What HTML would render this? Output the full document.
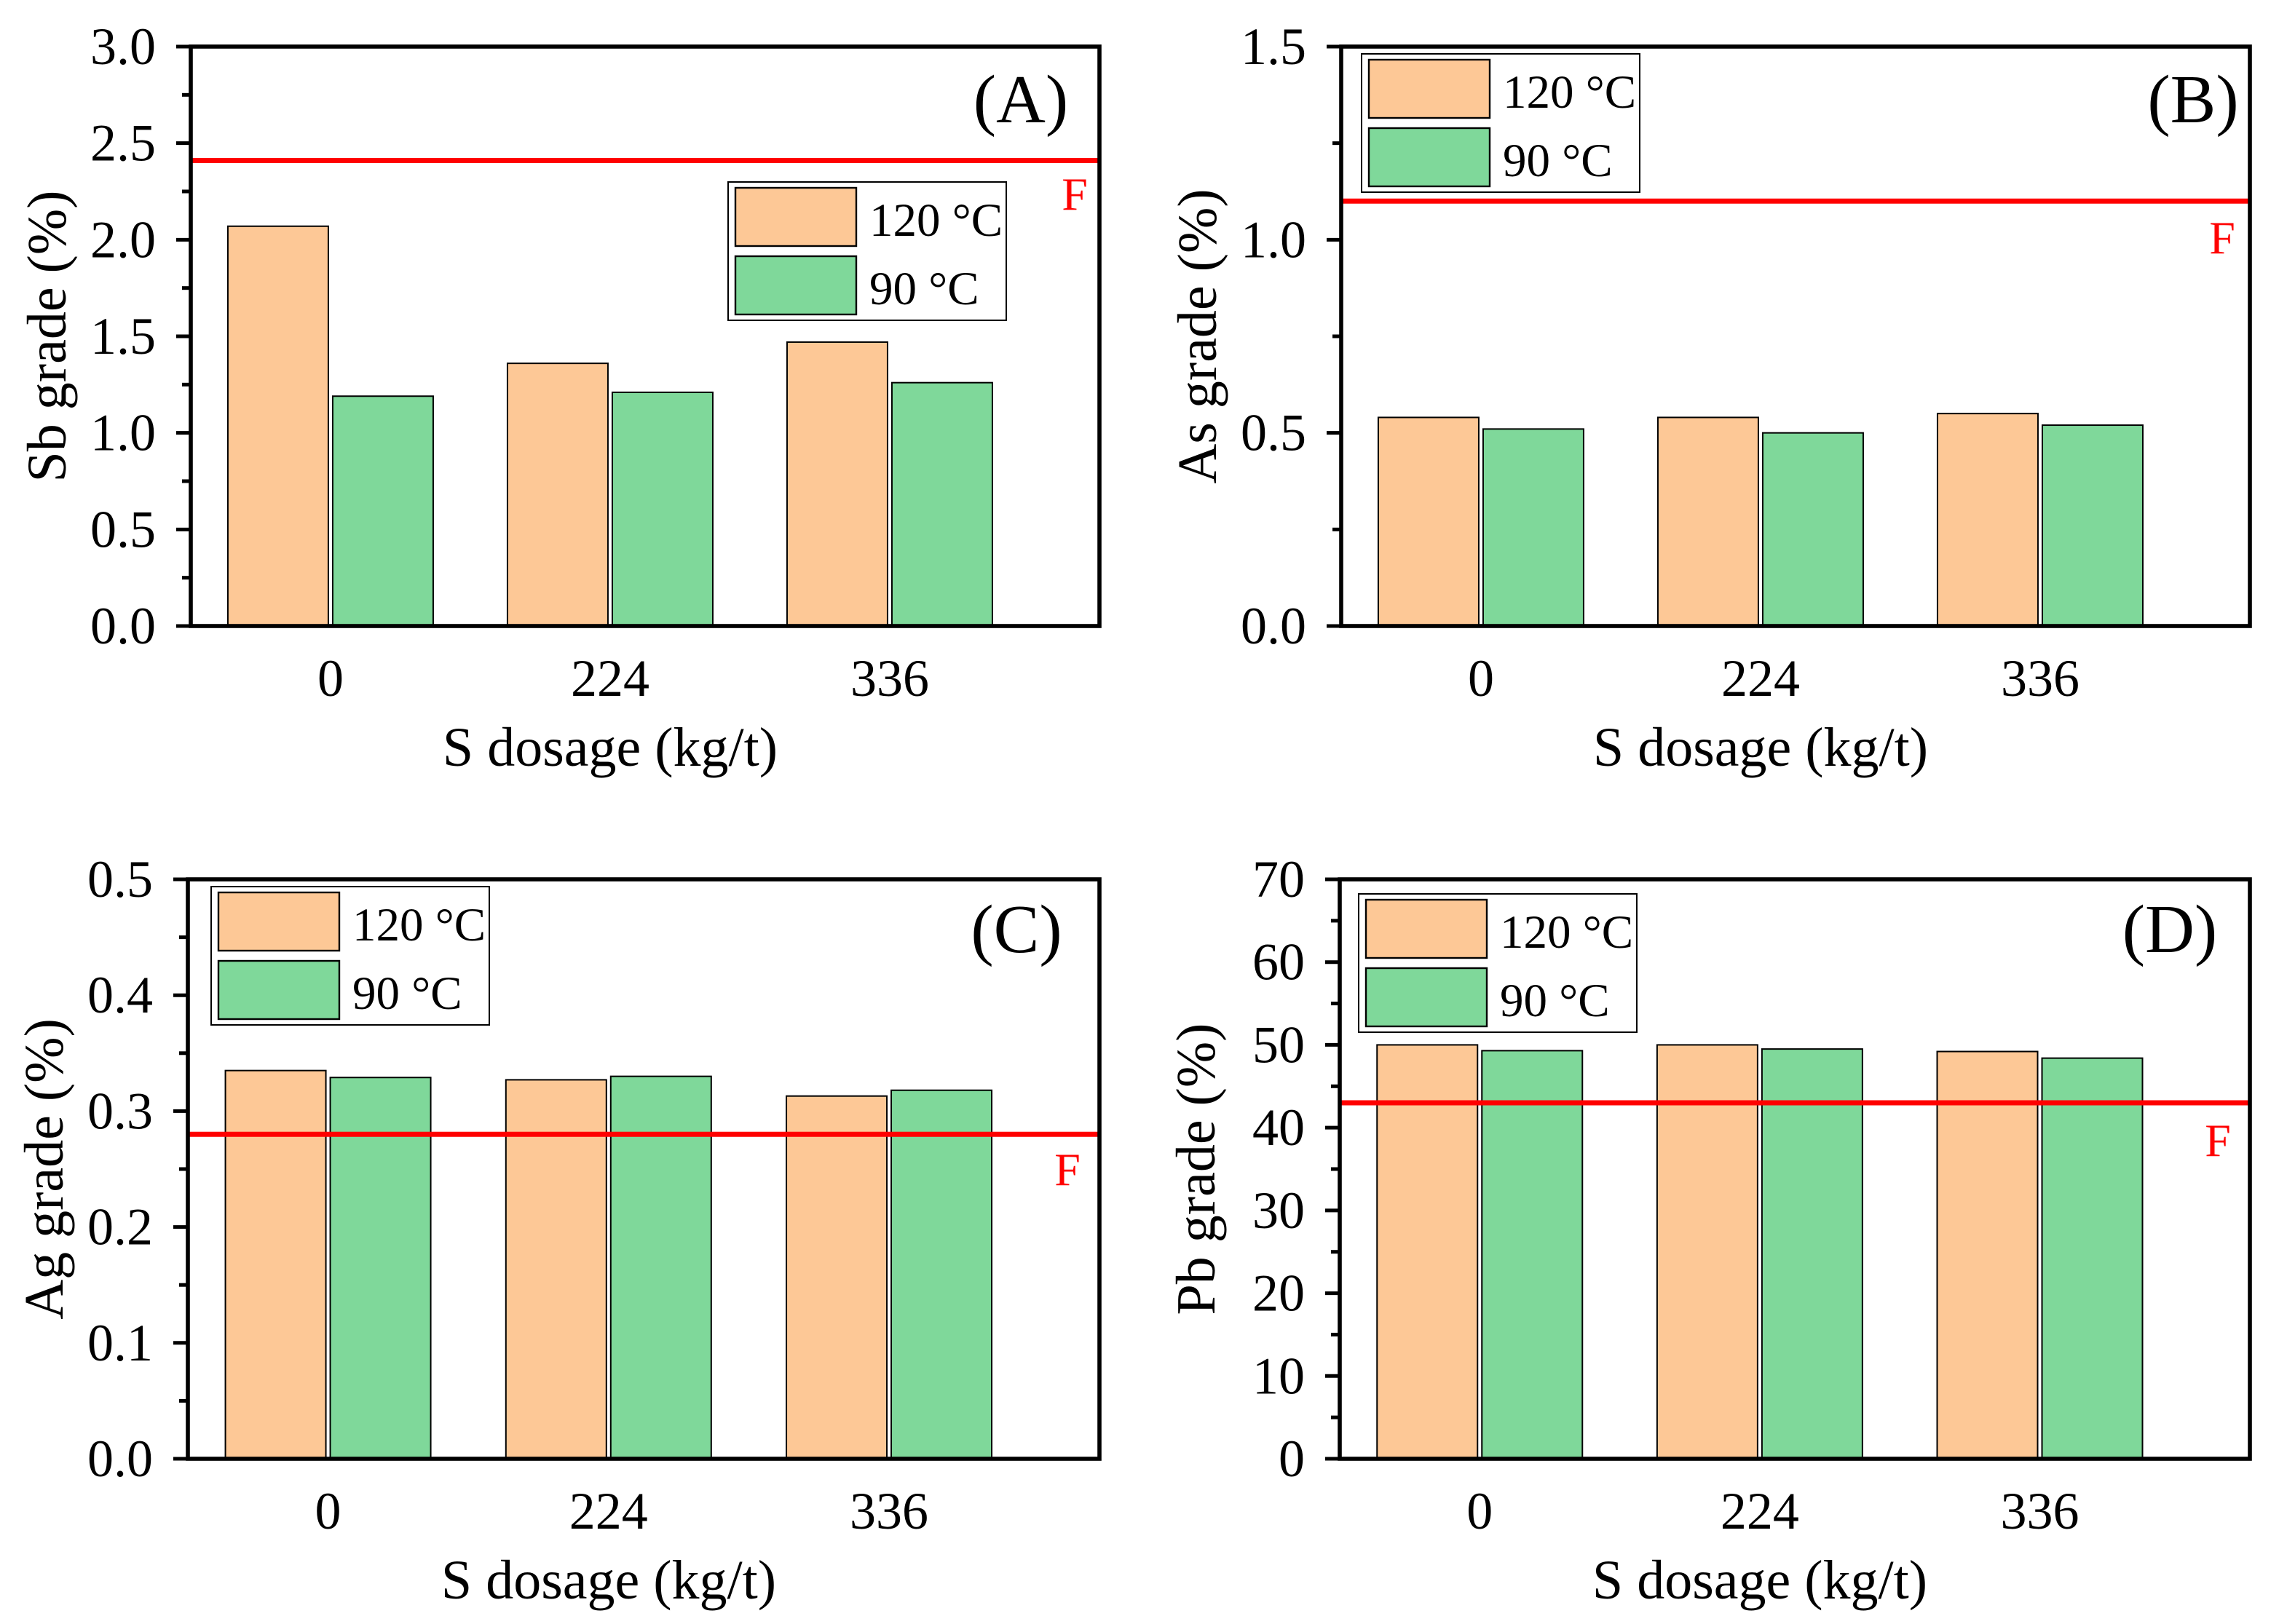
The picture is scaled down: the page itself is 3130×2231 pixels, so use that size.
<!DOCTYPE html>
<html><head><meta charset="utf-8"><style>
html,body{margin:0;padding:0;background:#fff;}
svg{display:block;font-family:"Liberation Serif",serif;}
</style></head><body>
<svg id="chart" width="3130" height="2231" viewBox="0 0 1565 1115.5" xmlns="http://www.w3.org/2000/svg"></svg>
<script>
const categories = ["0","224","336"];
const seriesNames = ["120 °C","90 °C"];
const sbHot = [2.07,1.36,1.47];
const sbCold = [1.19,1.21,1.26];
const asHot = [0.54,0.54,0.55];
const asCold = [0.51,0.50,0.52];
const agHot = [0.335,0.327,0.313];
const agCold = [0.329,0.330,0.318];
const pbHot = [50.0,50.0,49.2];
const pbCold = [49.3,49.5,48.4];
const sbTicks = ["0.0","0.5","1.0","1.5","2.0","2.5","3.0"];
const asTicks = ["0.0","0.5","1.0","1.5"];
const agTicks = ["0.0","0.1","0.2","0.3","0.4","0.5"];
const pbTicks = ["0","10","20","30","40","50","60","70"];
const feedSb = 2.41, feedAs = 1.10, feedAg = 0.28, feedPb = 43;

const NS="http://www.w3.org/2000/svg";
const svg=document.getElementById('chart');
function mk(tag,attrs,parent){const e=document.createElementNS(NS,tag);for(const k in attrs)e.setAttribute(k,attrs[k]);(parent||svg).appendChild(e);return e;}

const panels=[
 {id:'a',x0:131,x1:755,y0:32,y1:430,hot:sbHot,cold:sbCold,ticks:sbTicks,max:3.0,feed:feedSb,title:'Sb grade (%)',label:'(A)',lx:701,ly:84,fx:738,fy:144,leg:[500,125]},
 {id:'b',x0:921,x1:1545,y0:32,y1:430,hot:asHot,cold:asCold,ticks:asTicks,max:1.5,feed:feedAs,title:'As grade (%)',label:'(B)',lx:1506,ly:84,fx:1526,fy:174,leg:[935,37]},
 {id:'c',x0:129,x1:755,y0:604,y1:1002,hot:agHot,cold:agCold,ticks:agTicks,max:0.5,feed:feedAg,title:'Ag grade (%)',label:'(C)',lx:698,ly:654,fx:733,fy:814,leg:[145,609]},
 {id:'d',x0:920,x1:1545,y0:604,y1:1002,hot:pbHot,cold:pbCold,ticks:pbTicks,max:70,feed:feedPb,title:'Pb grade (%)',label:'(D)',lx:1490,ly:654,fx:1523,fy:794,leg:[933,614]}
];

panels.forEach(p=>{
 const g=mk('g',{});
 
 
 const W=p.x1-p.x0;
 const y=v=>p.y1-(v/p.max)*(p.y1-p.y0);
 const step=W*0.3077;
 const cx=i=>p.x0+W*0.1554+i*step-1;
 const bw=69;
 categories.forEach((c,i)=>{
  const r1=mk('rect',{x:cx(i)-bw-1.5,y:y(p.hot[i]),width:bw,height:p.y1-y(p.hot[i]),fill:'#fdc896',stroke:'#000','stroke-width':1},g);
  
  
  const r2=mk('rect',{x:cx(i)+1.5,y:y(p.cold[i]),width:bw,height:p.y1-y(p.cold[i]),fill:'#7fd89a',stroke:'#000','stroke-width':1},g);
  
  
  const t=mk('text',{x:cx(i),y:p.y1+48,'font-size':36,'text-anchor':'middle'},g);t.textContent=c;
  
  
 });
 const fl=mk('line',{x1:p.x0,x2:p.x1,y1:y(p.feed),y2:y(p.feed),stroke:'#ff0000','stroke-width':3.5},g);
 
 
 const ft=mk('text',{x:p.fx,y:p.fy,'font-size':32,fill:'#ff0000','text-anchor':'middle'},g);ft.textContent='F';
 
 
 const n=p.ticks.length-1;
 p.ticks.forEach((t,i)=>{
  const v=p.max*i/n, yy=y(v);
  mk('line',{x1:p.x0-10,x2:p.x0,y1:yy,y2:yy,stroke:'#000','stroke-width':2.5},g);
  if(i<n){const ym=y(v+p.max/n/2);mk('line',{x1:p.x0-6,x2:p.x0,y1:ym,y2:ym,stroke:'#000','stroke-width':2.5},g);}
  const tt=mk('text',{x:p.x0-24,y:yy+12,'font-size':36,'text-anchor':'end'},g);tt.textContent=t;
  
  
 });
 const fr=mk('rect',{x:p.x0,y:p.y0,width:W,height:p.y1-p.y0,fill:'none',stroke:'#000','stroke-width':2.8},g);
 
 
 const yt=mk('text',{x:0,y:0,'font-size':38,'text-anchor':'middle',transform:`translate(${p.x0-86},${(p.y0+p.y1)/2}) rotate(-90)`},g);yt.textContent=p.title;
 
 
 const xt=mk('text',{x:(p.x0+p.x1)/2-24,y:p.y1+96,'font-size':38,'text-anchor':'middle'},g);xt.textContent='S dosage (kg/t)';
 
 
 const pl=mk('text',{x:p.lx,y:p.ly,'font-size':47,'text-anchor':'middle'},g);pl.textContent=p.label;
 
 
 const [lx,ly]=p.leg;
 const lg=mk('g',{},g);
 
 
 mk('rect',{x:lx,y:ly,width:191,height:95,fill:'#fff',stroke:'#000','stroke-width':1},lg);
 [['#fdc896',seriesNames[0]],['#7fd89a',seriesNames[1]]].forEach(([col,name],k)=>{
  const sw=mk('rect',{x:lx+5,y:ly+4+k*47,width:83,height:40,fill:col,stroke:'#000','stroke-width':1.2},lg);
  
  
  const lt=mk('text',{x:lx+97,y:ly+37+k*47,'font-size':32.5},lg);lt.textContent=name;
  
  
 });
});
</script>
</body></html>
